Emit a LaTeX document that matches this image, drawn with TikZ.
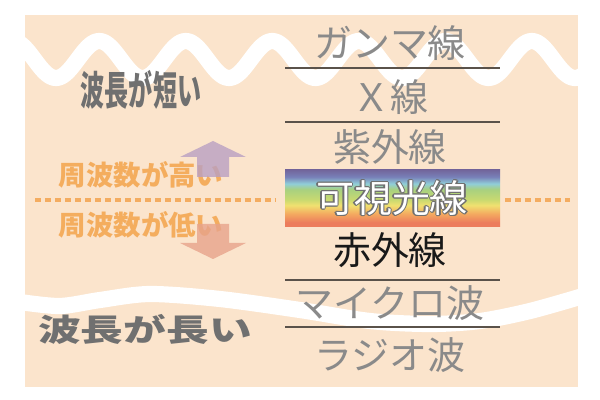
\documentclass[tikz,border=0pt]{standalone}
\usepackage{fontspec}
\setmainfont{Noto Sans CJK JP}
\usetikzlibrary{positioning}

\definecolor{fondo}{RGB}{251,228,204}
\definecolor{grisclaro}{RGB}{138,138,138}
\definecolor{grisoscuro}{RGB}{112,112,112}
\definecolor{naranjatexto}{RGB}{244,173,94}
\definecolor{raya}{RGB}{90,82,74}
\definecolor{flechaarriba}{RGB}{185,160,194}
\definecolor{flechaabajo}{RGB}{231,163,139}
\definecolor{rojo}{RGB}{236,124,92}
\definecolor{naranja}{RGB}{244,172,96}
\definecolor{amarillo}{RGB}{240,224,112}
\definecolor{verdeclaro}{RGB}{200,218,112}
\definecolor{verde}{RGB}{168,208,128}
\definecolor{celeste}{RGB}{144,206,216}
\definecolor{azul}{RGB}{120,128,184}
\definecolor{morado}{RGB}{114,102,156}

\pgfdeclareverticalshading{espectro}{100bp}{color(0bp)=(rojo); color(29bp)=(rojo);
  color(37bp)=(naranja); color(44bp)=(amarillo); color(49bp)=(verdeclaro);
  color(58bp)=(verde); color(63bp)=(celeste); color(69bp)=(azul);
  color(75bp)=(morado); color(100bp)=(morado)}

\tikzset{
  onda/.style={white, line width=11.5pt, line join=round},
  banda/.style={inner sep=0pt, text=grisclaro, font=\fontsize{27pt}{30pt}\selectfont},
  separador/.style={raya, line width=1pt},
  frecuencia/.style={inner sep=0pt, text=naranjatexto, font=\bfseries\fontsize{19.5pt}{22pt}\selectfont},
  longitud/.style={inner sep=0pt, text=grisoscuro, font=\bfseries}
}

\begin{document}
\begin{tikzpicture}[x=0.025cm, y=-0.025cm]
  \useasboundingbox (0,0) rectangle (600,400);

  % Fondo
  \fill[fondo] (25,15) rectangle (578,387);

  % Ondas blancas
  \begin{scope}
    \clip (25,15) rectangle (578,387);
    \draw[onda, domain=20:583, samples=250]
      plot (\x, {59.5+18.5*cos(4.1618*(\x-56))});
    \draw[onda] plot[smooth] coordinates {(20,302) (60,306) (100,300) (150,294)
      (220,299) (300,310) (370,321) (430,324) (480,321) (530,311) (583,296)};
  \end{scope}

  % Linea discontinua
  \draw[naranja, line width=2.5pt, dash pattern=on 4.3pt off 2.8pt] (35,200) -- (275,200);
  \draw[naranja, line width=2.5pt, dash pattern=on 4.3pt off 2.8pt] (505,200) -- (570,200);

  % Franja visible
  \shade[shading=espectro] (285,170) rectangle (500,227);

  % Separadores
  \draw[separador] (285,68) -- (500,68);
  \draw[separador] (285,122) -- (500,122);
  \draw[separador] (285,280) -- (500,280);
  \draw[separador] (285,327) -- (500,327);

  % Nombres de las bandas
  \node[banda] (gamma) at (390,43) {ガンマ線};
  \node[banda] (rayosx) at (390,97) {Ｘ線};
  \node[banda] (uv) at (390,147) {紫外線};
  \foreach \a in {0,45,...,315}
    \node[banda, text=grisoscuro, shift={(\a:1.3)}] (borde\a) at (392,198) {可視光線};
  \node[banda, text=white] (visible) at (392,198) {可視光線};
  \node[banda, text=black!90] (ir) at (390,250) {赤外線};
  \node[banda] (micro) at (390,303) {マイクロ波};
  \node[banda] (radio) at (390,355) {ラジオ波};

  % Etiquetas de la izquierda
  \node[longitud] (corta) at (141,90)
    {\scalebox{0.6}[1]{\fontsize{28.5pt}{30pt}\selectfont 波長が短い}};
  \node[longitud] (larga) at (145,329)
    {\scalebox{1.38}[1]{\fontsize{22pt}{24pt}\selectfont 波長が長い}};
  \node[frecuencia] (alta) at (141,175) {周波数が高い};
  \node[frecuencia] (baja) at (141,225) {周波数が低い};

  % Flechas
  \fill[flechaarriba, fill opacity=0.8] (197,177) -- (197,157) -- (180,157) -- (213,141)
    -- (246,157) -- (229,157) -- (229,177) -- cycle;
  \fill[flechaabajo, fill opacity=0.8] (197,224) -- (197,243) -- (180,243) -- (213,259)
    -- (246,243) -- (229,243) -- (229,224) -- cycle;
\end{tikzpicture}
\end{document}
